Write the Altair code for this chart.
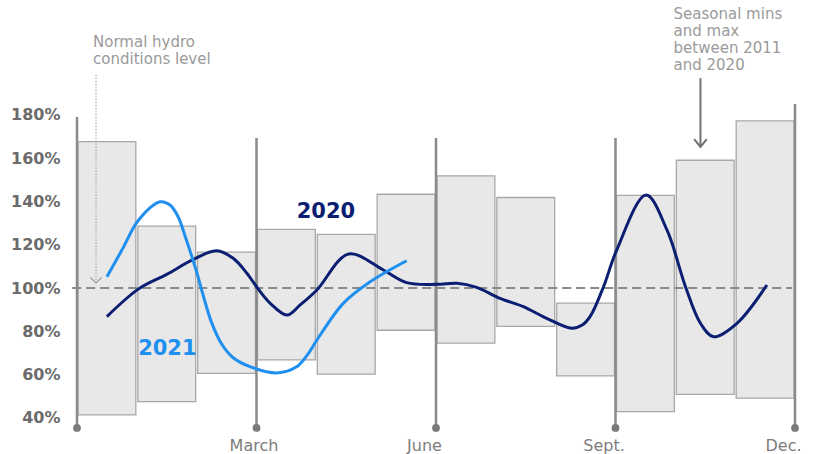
import altair as alt
import pandas as pd

# Seasonal ranges 2011-2020 (% of normal hydro conditions), one box per month
months = ["Jan", "Feb", "Mar", "Apr", "May", "Jun", "Jul", "Aug", "Sep", "Oct", "Nov", "Dec"]
season_min = [41.4, 47.5, 60.6, 66.8, 60.2, 80.5, 74.5, 82.3, 59.4, 42.9, 50.9, 49.1]
season_max = [167.6, 128.6, 116.6, 127.1, 124.8, 143.3, 151.8, 141.8, 93.0, 142.8, 159.0, 177.2]

# Hydro level curves; t is months elapsed since 1 January
t2020 = [0.50, 1.03, 1.50, 1.945, 2.335, 2.61, 2.84, 3.00, 3.23, 3.51, 3.73, 4.01,
         4.54, 5.12, 5.51, 6.01, 6.35, 6.68, 7.07, 7.46, 7.85, 8.27, 8.45, 8.58, 8.80,
         9.02, 9.51, 9.86, 10.17, 10.42, 10.64, 11.03, 11.53]
v2020 = [86.8, 99.6, 106.3, 113.2, 117.2, 113.7, 106.8, 100.6, 92.9, 87.5, 92.2, 99.1,
         115.7, 108.3, 102.5, 101.7, 102.2, 100.3, 95.2, 91.4, 86.0, 81.4, 83.0, 87.0, 100.6,
         117.5, 142.9, 126.8, 100.6, 83.7, 77.5, 83.7, 101.4]
t2021 = [0.50, 0.75, 1.03, 1.39, 1.555, 1.69, 1.81, 1.92, 2.02, 2.11, 2.25, 2.42,
         2.61, 2.89, 3.34, 3.67, 3.85, 4.01, 4.45, 4.90, 5.51]
v2021 = [105.2, 117.5, 131.4, 139.8, 138.3, 132.9, 123.7, 114.5, 105.5, 96.5, 84.0, 74.0,
         67.8, 63.7, 60.8, 63.6, 69.1, 76.0, 92.9, 102.9, 112.6]

# Quarter markers
quarter_at = [0, 3, 6, 9, 12]
quarter_top = [179.0, 169.3, 169.3, 169.3, 185.0]
marker_base = 35.4

normal_level = 100
y_ticks = [40, 60, 80, 100, 120, 140, 160, 180]

C2020 = "#0b1f72"
C2021 = "#1f8ff0"
GREY = "#8a8a8a"
FONT = "DejaVu Sans"

boxes = pd.DataFrame({
    "month": months,
    "start": list(range(12)),
    "end": [i + 1 for i in range(12)],
    "lo": season_min,
    "hi": season_max,
})
curves = pd.concat([
    pd.DataFrame({"t": t2020, "v": v2020, "year": "2020"}),
    pd.DataFrame({"t": t2021, "v": v2021, "year": "2021"}),
])
quarters = pd.DataFrame({"q": quarter_at, "top": quarter_top, "base": marker_base})

x_scale = alt.Scale(domain=[0, 12], nice=False, zero=False)
y_scale = alt.Scale(domain=[33.5, 233], nice=False, zero=False)

label_expr = ("datum.value == 3 ? 'March' : datum.value == 6 ? 'June' : "
              "datum.value == 9 ? 'Sept.' : 'Dec.'")

x_axis = alt.Axis(
    values=quarter_at[1:], labelExpr=label_expr, title=None, ticks=False, domain=False,
    grid=False, labelFont=FONT, labelFontSize=16, labelColor="#7c7c7c", labelPadding=5,
    labelFlush=False,
    labelOffset={"condition": {"test": "datum.value == 3", "value": -3},
                 "value": -12},
)
y_axis = alt.Axis(values=y_ticks, labelExpr="datum.value + '%'", title=None, ticks=False,
                  domain=False, grid=False, labelFont=FONT, labelFontSize=16,
                  labelFontWeight="bold", labelColor="#6b6b6b", labelPadding=17)

box_layer = alt.Chart(boxes).mark_rect(
    fill="#e8e8e8", stroke="#a8a8a8", strokeWidth=1.3, xOffset=1, x2Offset=-1
).encode(
    x=alt.X("start:Q", scale=x_scale, axis=x_axis),
    x2="end:Q",
    y=alt.Y("lo:Q", scale=y_scale, axis=y_axis),
    y2="hi:Q",
)

quarter_rules = alt.Chart(quarters).mark_rule(color=GREY, strokeWidth=2.5).encode(
    x="q:Q", y="base:Q", y2="top:Q"
)
quarter_dots = alt.Chart(quarters).mark_circle(size=60, color="#7a7a7a", opacity=1).encode(
    x="q:Q", y="base:Q"
)

normal_line = alt.Chart(
    pd.DataFrame({"a": [-0.08], "b": [11.95], "v": [normal_level]})
).mark_rule(color=GREY, strokeWidth=2, strokeDash=[9, 5]).encode(x="a:Q", x2="b:Q", y="v:Q")

# dotted pointer to the normal level
ptr1 = alt.Chart(pd.DataFrame({"x": [0.318], "y": [198.5], "y2": [103.0]})).mark_rule(
    color="#9a9a9a", strokeWidth=1, strokeDash=[1.5, 1.5]
).encode(x="x:Q", y="y:Q", y2="y2:Q")
ptr1_head = alt.Chart(pd.DataFrame({"x": [0.318], "y": [102.3]})).mark_point(
    shape="M-1,-1L0,0L1,-1", size=130, filled=False, color="#9a9a9a", strokeWidth=1.2,
    opacity=1
).encode(x="x:Q", y="y:Q")

# pointer to the seasonal boxes
ptr2 = alt.Chart(pd.DataFrame({"x": [10.42], "y": [196.9], "y2": [165.8]})).mark_rule(
    color="#707070", strokeWidth=2
).encode(x="x:Q", y="y:Q", y2="y2:Q")
ptr2_head = alt.Chart(pd.DataFrame({"x": [10.42], "y": [165.2]})).mark_point(
    shape="M-1,-1.2L0,0L1,-1.2", size=160, filled=False, color="#707070", strokeWidth=2,
    opacity=1
).encode(x="x:Q", y="y:Q")

lines = alt.Chart(curves).mark_line(interpolate="catmull-rom", strokeWidth=3).encode(
    x="t:Q",
    y="v:Q",
    color=alt.Color("year:N", scale=alt.Scale(domain=["2020", "2021"], range=[C2020, C2021]),
                    legend=None),
)

lbl2020 = alt.Chart().mark_text(
    text="2020", font=FONT, fontSize=21, fontWeight="bold", color=C2020
).encode(x=alt.datum(4.16), y=alt.datum(135.1))
lbl2021 = alt.Chart().mark_text(
    text="2021", font=FONT, fontSize=21, fontWeight="bold", color=C2021
).encode(x=alt.datum(1.51), y=alt.datum(72.0))

note1 = alt.Chart().mark_text(
    text=["Normal hydro", "conditions level"], font=FONT, fontSize=15, color="#9a9a9a",
    align="left", baseline="top", lineHeight=17
).encode(x=alt.datum(0.268), y=alt.datum(216.8))
note2 = alt.Chart().mark_text(
    text=["Seasonal mins", "and max", "between 2011", "and 2020"], font=FONT, fontSize=15,
    color="#9a9a9a", align="left", baseline="top", lineHeight=17
).encode(x=alt.datum(9.97), y=alt.datum(229.9))

chart = alt.layer(
    box_layer, quarter_rules, quarter_dots, normal_line, ptr1, ptr1_head, ptr2, ptr2_head,
    lines, lbl2020, lbl2021, note1, note2,
).properties(
    width=718, height=432,
    background="white",
    autosize=alt.AutoSizeParams(type="none"),
    padding={"left": 77, "top": 0, "right": 39, "bottom": 22},
).configure_view(stroke=None)

chart.save("out.html", embed_options={"renderer": "svg", "actions": False})
